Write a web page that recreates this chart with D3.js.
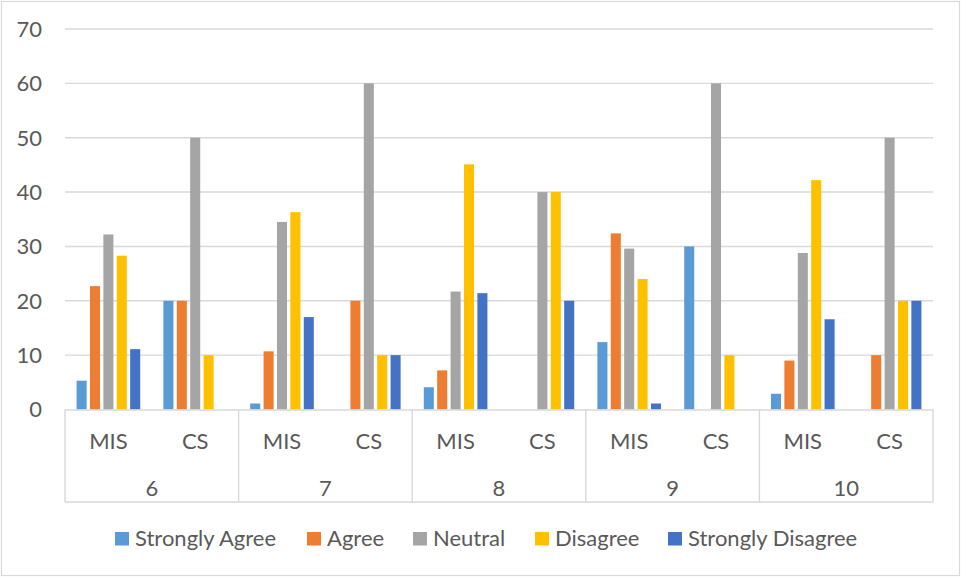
<!DOCTYPE html>
<html>
<head>
<meta charset="utf-8">
<script src="https://cdn.jsdelivr.net/npm/d3@7"></script>
<style>
  html, body { margin: 0; padding: 0; background: #fff; }
  svg { display: block; }
  text { font-family: Lato, "Open Sans", sans-serif; fill: #595959; }
</style>
</head>
<body>
<svg id="chart" width="961" height="577"></svg>
<script>
// ---- data ----
const groups = ["6", "7", "8", "9", "10"];
const subjects = ["MIS", "CS"];
const seriesNames = ["Strongly Agree", "Agree", "Neutral", "Disagree", "Strongly Disagree"];
const seriesColors = ["#5B9BD5", "#ED7D31", "#A5A5A5", "#FFC000", "#4472C4"];
// values per category in order: 6-MIS, 6-CS, 7-MIS, 7-CS, ... 10-CS
const stronglyAgree    = [5.3, 20, 1.1, 0, 4.1, 0, 12.4, 30, 2.9, 0];
const agree            = [22.7, 20, 10.7, 20, 7.2, 0, 32.4, 0, 9.0, 10];
const neutral          = [32.2, 50, 34.5, 60, 21.7, 40, 29.6, 60, 28.8, 50];
const disagree         = [28.3, 10, 36.3, 10, 45.1, 40, 24.0, 10, 42.2, 20];
const stronglyDisagree = [11.1, 0, 17.0, 10, 21.4, 20, 1.1, 0, 16.6, 20];
const yTicks = [0, 10, 20, 30, 40, 50, 60, 70];

const seriesValues = [stronglyAgree, agree, neutral, disagree, stronglyDisagree];
const categories = [];
groups.forEach(g => subjects.forEach(s => categories.push(g + "|" + s)));

const svg = d3.select("#chart");
const W = 961, H = 577;
const plotL = 65, plotR = 933, plotT = 29, plotB = 409.5;
const FS = "22px";

// chart border
svg.append("rect").attr("x", 1.5).attr("y", 1.5).attr("width", W - 3).attr("height", H - 3)
  .attr("fill", "#fff").attr("stroke", "#D9D9D9").attr("stroke-width", 1.2);

const y = d3.scaleLinear().domain([0, 70]).range([plotB, plotT]);
const x0 = d3.scaleBand().domain(categories).range([plotL, plotR]).padding(0);
const x1 = d3.scaleBand().domain(seriesNames).range([0, x0.bandwidth()])
  .paddingInner(0.25).paddingOuter(0.865);
const xg = d3.scaleBand().domain(groups).range([plotL, plotR]).padding(0);

// gridlines
svg.append("g").selectAll("line").data(yTicks.filter(t => t > 0)).join("line")
  .attr("x1", plotL).attr("x2", plotR)
  .attr("y1", d => y(d)).attr("y2", d => y(d))
  .attr("stroke", "#D9D9D9").attr("stroke-width", 1.4);

// y tick labels
svg.append("g").selectAll("text").data(yTicks).join("text")
  .attr("x", 42).attr("y", d => y(d))
  .attr("dy", "0.36em")
  .attr("text-anchor", "end")
  .style("font-size", FS)
  .text(d => d);

// bars
const barG = svg.append("g");
seriesNames.forEach((name, si) => {
  barG.append("g").selectAll("rect")
    .data(categories.map((c, ci) => ({ c, v: seriesValues[si][ci] })).filter(d => d.v > 0))
    .join("rect")
    .attr("x", d => x0(d.c) + x1(name))
    .attr("width", x1.bandwidth())
    .attr("y", d => y(d.v))
    .attr("height", d => plotB - y(d.v))
    .attr("fill", seriesColors[si]);
});

// category axis
const axG = svg.append("g").attr("stroke", "#D9D9D9").attr("stroke-width", 1.4);
axG.append("line").attr("x1", plotL).attr("x2", plotR).attr("y1", plotB + 0.5).attr("y2", plotB + 0.5);
axG.append("line").attr("x1", plotL).attr("x2", plotR).attr("y1", 502).attr("y2", 502);
const seps = groups.map(g => xg(g)).concat([plotR]);
axG.selectAll("line.sep").data(seps).join("line").attr("class", "sep")
  .attr("x1", d => d).attr("x2", d => d).attr("y1", plotB).attr("y2", 502);

svg.append("g").selectAll("text").data(categories).join("text")
  .attr("x", d => x0(d) + x0.bandwidth() / 2).attr("y", 448.5)
  .attr("text-anchor", "middle").style("font-size", FS)
  .text(d => d.split("|")[1]);

svg.append("g").selectAll("text").data(groups).join("text")
  .attr("x", d => xg(d) + xg.bandwidth() / 2).attr("y", 496)
  .attr("text-anchor", "middle").style("font-size", FS)
  .text(d => d);

// legend
const legendX = [115, 307, 413, 535, 668];
const lg = svg.append("g");
seriesNames.forEach((name, i) => {
  lg.append("rect").attr("x", legendX[i]).attr("y", 532).attr("width", 14).attr("height", 13.5)
    .attr("fill", seriesColors[i]);
  lg.append("text").attr("x", legendX[i] + 20).attr("y", 546)
    .style("font-size", FS).text(name);
});
</script>
</body>
</html>
